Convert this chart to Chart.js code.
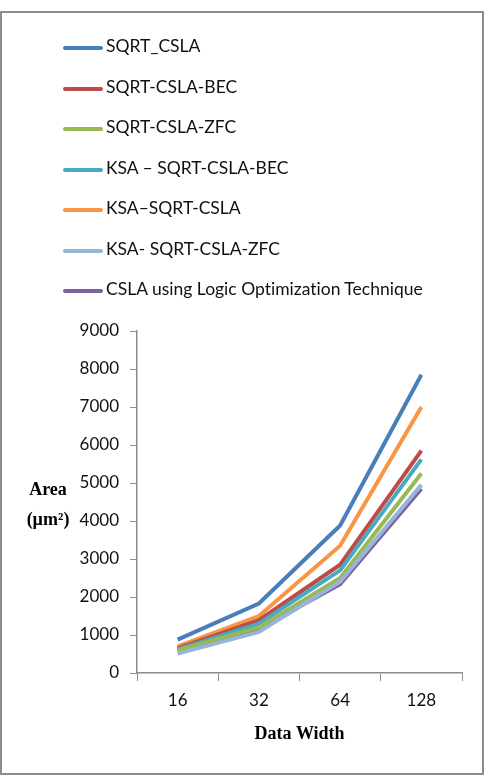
<!DOCTYPE html>
<html>
<head>
<meta charset="utf-8">
<script src="https://cdn.jsdelivr.net/npm/chart.js@4/dist/chart.umd.min.js"></script>
<style>
  html, body { margin: 0; padding: 0; background: #fff; }
  #wrap { position: relative; width: 485px; height: 783px; }
  #frame { position: absolute; left: 0; top: 11px; width: 480px; height: 760px; border: 2px solid #8c8c8c; box-sizing: content-box; }
  #chart { position: absolute; left: 0; top: 0; }
  #legend { position: absolute; left: 63px; top: 35px; font-family: Lato, sans-serif; font-size: 17.5px; color: #111; font-variant-ligatures: none; }
  .row { height: 40.5px; display: flex; align-items: flex-start; white-space: nowrap; }
  .swatch { width: 40px; height: 4px; margin-top: 11px; margin-right: 3px; border-radius: 2px; }
</style>
</head>
<body>
<div id="wrap">
  <div id="frame"></div>
  <canvas id="chart" width="485" height="783"></canvas>
  <div id="legend"></div>
</div>
<script>
const categories = ['16', '32', '64', '128'];
const seriesNames = [
  'SQRT_CSLA',
  'SQRT-CSLA-BEC',
  'SQRT-CSLA-ZFC',
  'KSA \u2013 SQRT-CSLA-BEC',
  'KSA\u2013SQRT-CSLA',
  'KSA- SQRT-CSLA-ZFC',
  'CSLA using Logic Optimization Technique'
];
const sqrtCsla       = [880, 1830, 3880, 7850];
const sqrtCslaBec    = [650, 1390, 2850, 5850];
const sqrtCslaZfc    = [600, 1200, 2500, 5250];
const ksaSqrtCslaBec = [620, 1300, 2700, 5620];
const ksaSqrtCsla    = [700, 1500, 3350, 7000];
const ksaSqrtCslaZfc = [510, 1080, 2400, 4950];
const cslaLogicOpt   = [580, 1160, 2340, 4850];
const yTicks = [0, 1000, 2000, 3000, 4000, 5000, 6000, 7000, 8000, 9000];

const colors = ['#4a7ebb', '#be4b48', '#98b954', '#46aac5', '#f79646', '#98b4d8', '#7d60a0'];
const allSeries = [sqrtCsla, sqrtCslaBec, sqrtCslaZfc, ksaSqrtCslaBec, ksaSqrtCsla, ksaSqrtCslaZfc, cslaLogicOpt];

// draw order: light ones first so the darker lines sit on top
const drawOrder = [5, 2, 6, 3, 1, 4, 0];

const datasets = allSeries.map(function (values, i) {
  return {
    label: seriesNames[i],
    data: values,
    borderColor: colors[i],
    backgroundColor: colors[i],
    borderWidth: 4,
    pointRadius: 0,
    tension: 0,
    order: drawOrder.indexOf(i)
  };
});

// horizontal two-line y-axis title
const areaTitle = {
  id: 'areaTitle',
  afterDraw(chart) {
    const ctx = chart.ctx;
    ctx.save();
    ctx.fillStyle = '#000';
    ctx.textAlign = 'center';
    ctx.textBaseline = 'middle';
    ctx.font = 'bold 18px "Liberation Serif", serif';
    ctx.fillText('Area', 48, 490);
    ctx.fillText('(\u00b5m\u00b2)', 48, 520);
    ctx.restore();
  }
};

const chart = new Chart(document.getElementById('chart').getContext('2d'), {
  type: 'line',
  data: { labels: categories, datasets: datasets },
  options: {
    responsive: false,
    animation: false,
    layout: { padding: { top: 331, right: 23, bottom: 38, left: 0 } },
    plugins: {
      legend: { display: false },
      tooltip: { enabled: false }
    },
    scales: {
      x: {
        offset: true,
        grid: { offset: true, drawOnChartArea: false, drawTicks: true, tickLength: 8, color: '#8c8c8c' },
        border: { color: '#8c8c8c', width: 1.5 },
        ticks: { color: '#111', padding: 9, font: { family: 'Lato', size: 17 } },
        title: {
          display: true,
          text: 'Data Width',
          color: '#000',
          padding: { top: 4, bottom: 0 },
          font: { family: '"Liberation Serif"', size: 18, weight: 'bold' }
        }
      },
      y: {
        min: 0,
        max: 9000,
        afterBuildTicks(scale) { scale.ticks = yTicks.map(function (v) { return { value: v }; }); },
        afterFit(scale) { scale.width = 137; },
        grid: { drawOnChartArea: false, drawTicks: true, tickLength: 7, color: '#8c8c8c' },
        border: { color: '#8c8c8c', width: 1.5 },
        ticks: {
          color: '#111',
          padding: 11,
          font: { family: 'Lato', size: 17 },
          callback: function (v) { return String(v); }
        }
      }
    }
  },
  plugins: [areaTitle]
});

// vertical legend, one item per row
const legend = document.getElementById('legend');
chart.data.datasets.forEach(function (ds) {
  const row = document.createElement('div');
  row.className = 'row';
  const sw = document.createElement('div');
  sw.className = 'swatch';
  sw.style.background = ds.borderColor;
  const txt = document.createElement('span');
  txt.textContent = ds.label;
  row.appendChild(sw);
  row.appendChild(txt);
  legend.appendChild(row);
});
</script>
</body>
</html>
